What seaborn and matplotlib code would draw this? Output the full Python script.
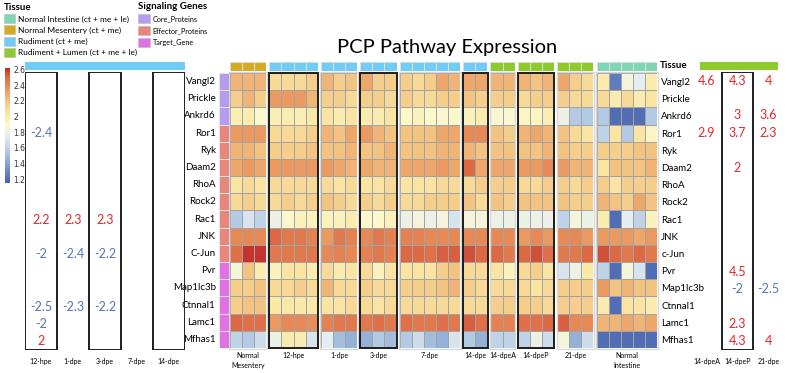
import numpy as np
import pandas as pd
import matplotlib
matplotlib.use('Agg')
import matplotlib.pyplot as plt
import seaborn as sns
from matplotlib.colors import LinearSegmentedColormap, ListedColormap
from matplotlib.patches import Patch, Rectangle

# ---- data ----
genes = ['Vangl2', 'Prickle', 'Ankrd6', 'Ror1', 'Ryk', 'Daam2', 'RhoA', 'Rock2',
         'Rac1', 'JNK', 'C-Jun', 'Pvr', 'Map1lc3b', 'Ctnnal1', 'Lamc1', 'Mfhas1']
genes_right = ['Vangl2', 'Prickle', 'Ankrd6', 'Ror1', 'Ryk', 'Daam2', 'RhoA', 'Rock2',
               'Rac1', 'JNK', 'c-Jun', 'Pvr', 'Map1lc3b', 'Ctnnal1', 'Lamc1', 'Mfhas1']
gene_class = ['Core_Proteins'] * 3 + ['Effector_Proteins'] * 8 + ['Target_Gene'] * 5

groups = ['Normal\nMesentery', '12-hpe', '1-dpe', '3-dpe', '7-dpe', '14-dpe',
          '14-dpeA', '14-dpeP', '21-dpe', 'Normal\nIntestine']
group_tissue = ['Normal Mesentery (ct + me)', 'Rudiment (ct + me)', 'Rudiment (ct + me)',
                'Rudiment (ct + me)', 'Rudiment (ct + me)', 'Rudiment (ct + me)',
                'Rudiment + Lumen (ct + me + le)', 'Rudiment + Lumen (ct + me + le)',
                'Rudiment + Lumen (ct + me + le)', 'Normal Intestine (ct + me + le)']
boxed_groups = ['12-hpe', '3-dpe', '14-dpe', '14-dpeP']

expr_nm = [[2.25, 2.25, 2.25], [2.15, 2.25, 2.15], [1.98, 2.0, 1.9], [2.35, 2.35, 2.35],
           [2.25, 2.25, 2.2], [2.3, 2.35, 2.3], [2.05, 2.1, 2.05], [2.1, 2.15, 2.1],
           [1.55, 1.7, 1.6], [2.4, 2.4, 2.4], [2.48, 2.6, 2.6], [1.85, 2.2, 2.0],
           [2.15, 2.15, 2.2], [2.15, 2.2, 2.2], [2.5, 2.48, 2.48], [1.6, 1.55, 1.65]]
expr_12hpe = [[2.1, 2.1, 2.1, 2.15], [2.35, 2.35, 2.35, 2.25], [1.98, 2.0, 1.98, 2.02],
              [2.1, 2.1, 2.1, 2.15], [2.15, 2.15, 2.15, 2.2], [2.35, 2.35, 2.35, 2.35],
              [2.1, 2.1, 2.1, 2.1], [2.1, 2.15, 2.1, 2.15], [1.8, 1.9, 1.95, 1.95],
              [2.5, 2.45, 2.45, 2.42], [2.45, 2.45, 2.45, 2.45], [1.95, 2.05, 2.05, 2.0],
              [2.1, 2.1, 2.15, 2.1], [2.03, 2.03, 2.03, 2.03], [2.35, 2.4, 2.4, 2.38],
              [1.8, 2.0, 2.0, 1.7]]
expr_1dpe = [[2.25, 2.15, 2.2], [2.15, 2.15, 2.1], [2.05, 2.0, 2.05], [2.25, 2.2, 2.3],
             [2.2, 2.2, 2.25], [2.35, 2.3, 2.25], [2.1, 2.05, 2.1], [2.2, 2.15, 2.1],
             [1.95, 1.95, 2.0], [2.35, 2.45, 2.42], [2.4, 2.42, 2.4], [2.1, 2.0, 2.05],
             [2.25, 2.1, 2.1], [2.05, 2.05, 2.1], [2.42, 2.45, 2.45], [1.75, 1.5, 1.45]]
expr_3dpe = [[2.3, 2.15, 2.15], [2.15, 2.15, 2.1], [2.0, 2.0, 2.05], [2.35, 2.25, 2.2],
             [2.2, 2.2, 2.25], [2.3, 2.25, 2.25], [2.05, 2.05, 2.1], [2.15, 2.1, 2.15],
             [1.9, 1.9, 1.95], [2.4, 2.45, 2.42], [2.42, 2.45, 2.42], [2.1, 1.95, 2.05],
             [2.15, 2.1, 2.1], [2.1, 2.05, 2.1], [2.45, 2.48, 2.45], [1.45, 1.55, 1.5]]
expr_7dpe = [[2.15, 2.1, 2.15, 2.3, 2.25], [2.15, 2.1, 2.1, 2.15, 2.15],
             [1.9, 1.95, 1.9, 1.88, 1.9], [2.2, 2.2, 2.2, 2.3, 2.3],
             [2.2, 2.2, 2.2, 2.25, 2.25], [2.3, 2.3, 2.3, 2.35, 2.3],
             [2.05, 2.05, 2.05, 2.1, 2.1], [2.1, 2.1, 2.15, 2.15, 2.15],
             [1.8, 1.85, 1.8, 1.85, 1.7], [2.42, 2.42, 2.4, 2.4, 2.4],
             [2.5, 2.5, 2.48, 2.52, 2.52], [2.05, 2.05, 2.05, 2.15, 2.2],
             [2.15, 2.15, 2.15, 2.2, 2.25], [2.1, 2.1, 2.1, 2.1, 2.1],
             [2.48, 2.45, 2.45, 2.48, 2.45], [1.55, 1.65, 1.5, 1.45, 1.7]]
expr_14dpe = [[2.3, 2.3], [2.2, 2.15], [1.95, 2.0], [2.4, 2.4], [2.25, 2.2], [2.5, 2.3],
              [2.1, 2.15], [2.2, 2.1], [1.85, 1.85], [2.4, 2.4], [2.55, 2.5], [2.1, 2.1],
              [2.15, 2.1], [2.1, 2.1], [2.52, 2.48], [1.55, 1.45]]
expr_14dpeA = [[2.25, 2.25], [2.15, 2.15], [1.88, 1.88], [2.2, 2.15], [2.2, 2.2], [2.3, 2.3],
               [2.15, 2.15], [2.2, 2.15], [1.8, 1.8], [2.4, 2.4], [2.5, 2.45], [2.05, 1.95],
               [2.1, 2.1], [2.15, 2.15], [2.42, 2.42], [1.6, 1.6]]
expr_14dpeP = [[2.25, 2.2, 2.25], [2.1, 2.15, 2.15], [1.92, 1.92, 1.98], [2.25, 2.3, 2.25],
               [2.2, 2.2, 2.25], [2.35, 2.35, 2.4], [2.1, 2.1, 2.15], [2.2, 2.2, 2.2],
               [1.8, 1.8, 1.8], [2.35, 2.4, 2.35], [2.5, 2.55, 2.48], [2.1, 2.15, 2.05],
               [2.1, 2.05, 2.1], [2.15, 2.15, 2.1], [2.48, 2.48, 2.5], [1.6, 1.8, 1.65]]
expr_21dpe = [[2.3, 2.15, 2.1], [2.15, 2.1, 2.1], [1.8, 1.55, 1.55], [2.2, 2.1, 2.05],
              [2.2, 2.15, 2.15], [2.35, 2.25, 2.25], [2.15, 2.1, 2.15], [2.2, 2.15, 2.15],
              [1.6, 1.85, 1.8], [2.4, 2.4, 2.35], [2.45, 2.45, 2.5], [1.7, 1.8, 2.02],
              [2.15, 2.15, 2.15], [2.15, 2.15, 2.15], [2.52, 2.4, 2.4], [1.85, 1.45, 1.65]]
expr_ni = [[2.0, 1.25, 1.85, 1.75, 2.0], [2.1, 2.0, 2.1, 2.0, 2.05],
           [1.55, 1.2, 1.2, 1.2, 1.55], [1.6, 2.05, 1.55, 2.05, 1.92],
           [2.15, 2.15, 2.15, 2.2, 2.2], [2.05, 2.2, 2.2, 2.2, 2.25],
           [2.15, 2.05, 2.15, 2.15, 2.15], [2.25, 2.2, 2.15, 2.3, 2.2],
           [2.0, 1.2, 1.75, 1.6, 1.95], [2.35, 2.35, 2.35, 2.3, 2.35],
           [2.55, 2.5, 2.45, 2.5, 2.45], [1.6, 1.2, 1.85, 1.7, 1.2],
           [2.35, 2.2, 2.25, 2.2, 2.2], [2.0, 1.2, 2.05, 2.05, 2.0],
           [2.25, 2.25, 2.3, 2.25, 2.3], [1.2, 1.2, 1.2, 1.2, 1.2]]
group_expr = [expr_nm, expr_12hpe, expr_1dpe, expr_3dpe, expr_7dpe, expr_14dpe,
              expr_14dpeA, expr_14dpeP, expr_21dpe, expr_ni]

# fold changes beside the heatmap
left_stages = ['12-hpe', '1-dpe', '3-dpe', '7-dpe', '14-dpe']
left_boxed = ['12-hpe', '3-dpe', '14-dpe']
left_fc = [('Ror1', '12-hpe', -2.4),
           ('Rac1', '12-hpe', 2.2), ('Rac1', '1-dpe', 2.3), ('Rac1', '3-dpe', 2.3),
           ('C-Jun', '12-hpe', -2), ('C-Jun', '1-dpe', -2.4), ('C-Jun', '3-dpe', -2.2),
           ('Ctnnal1', '12-hpe', -2.5), ('Ctnnal1', '1-dpe', -2.3), ('Ctnnal1', '3-dpe', -2.2),
           ('Lamc1', '12-hpe', -2), ('Mfhas1', '12-hpe', 2)]
right_stages = ['14-dpeA', '14-dpeP', '21-dpe']
right_boxed = ['14-dpeP']
right_fc = [('Vangl2', '14-dpeA', 4.6), ('Vangl2', '14-dpeP', 4.3), ('Vangl2', '21-dpe', 4),
            ('Ankrd6', '14-dpeP', 3), ('Ankrd6', '21-dpe', 3.6),
            ('Ror1', '14-dpeA', 2.9), ('Ror1', '14-dpeP', 3.7), ('Ror1', '21-dpe', 2.3),
            ('Daam2', '14-dpeP', 2), ('Pvr', '14-dpeP', 4.5),
            ('Map1lc3b', '14-dpeP', -2), ('Map1lc3b', '21-dpe', -2.5),
            ('Lamc1', '14-dpeP', 2.3), ('Mfhas1', '14-dpeP', 4.3), ('Mfhas1', '21-dpe', 4)]

tissue_colors = {'Normal Intestine (ct + me + le)': '#7fd6b4',
                 'Normal Mesentery (ct + me)': '#d4ab22',
                 'Rudiment (ct + me)': '#6fcdf5',
                 'Rudiment + Lumen (ct + me + le)': '#8dcb2d'}
class_colors = {'Core_Proteins': '#b49cf0',
                'Effector_Proteins': '#e8857c',
                'Target_Gene': '#e072e6'}

# ---- style ----
plt.rcParams['font.family'] = ['Lato', 'DejaVu Sans']
RED = '#e3262b'
BLUE = '#5675b8'

cmap = LinearSegmentedColormap.from_list('pcp', [
    (0.00, '#4562ae'), (0.14, '#7b98ca'), (0.27, '#b2cae4'), (0.41, '#e5eef2'),
    (0.51, '#fbf8cc'), (0.61, '#f9e6a2'), (0.71, '#f3c583'), (0.81, '#eb9c62'),
    (0.92, '#dd6a45'), (1.00, '#c02a2a')])
VMIN, VMAX = 1.15, 2.62

W, H = 787, 373
fig = plt.figure(figsize=(W / 100, H / 100), dpi=100)


def ax_at(x0, y0, x1, y1):
    return fig.add_axes([x0 / W, 1 - y1 / H, (x1 - x0) / W, (y1 - y0) / H])


top, bottom = 73, 348
cw, gap, x = 12.1, 3.08, 230

# colorbar axis
cax = ax_at(5, 68, 9.5, 183)
heat_axes = []

for i, (g, vals) in enumerate(zip(groups, group_expr)):
    df = pd.DataFrame(vals, index=genes)
    ncol = df.shape[1]
    x1 = x + ncol * cw
    ax = ax_at(x, top, x1, bottom)
    sns.heatmap(df, ax=ax, cmap=cmap, vmin=VMIN, vmax=VMAX, linewidths=0.7,
                linecolor='#a3a3a3', xticklabels=False, yticklabels=False,
                cbar=(i == 0), cbar_ax=cax if i == 0 else None)
    heat_axes.append(ax)
    ax.set_xlabel(g, fontsize=5, labelpad=3, linespacing=1.5)
    ax.set_ylabel('')
    if g in boxed_groups:
        ax.add_patch(Rectangle((-0.02, -0.02), ncol + 0.04, len(genes) + 0.04, fill=False,
                               lw=1.4, ec='#1e1e1e', clip_on=False, zorder=5))
    else:
        ax.add_patch(Rectangle((-0.05, -0.05), ncol + 0.1, len(genes) + 0.1, fill=False,
                               lw=1.0, ec='#d8d8d8', clip_on=False, zorder=5))
    if i == len(groups) - 1:
        ax.yaxis.tick_right()
        ax.set_yticks(np.arange(len(genes)) + 0.5)
        ax.set_yticklabels(genes_right, rotation=0, fontsize=7)
        ax.tick_params(axis='y', length=0, pad=3)
    # tissue bar on top of the group
    tax = ax_at(x, 62, x1, 70.5)
    sns.heatmap(np.zeros((1, ncol)), ax=tax, cmap=ListedColormap([tissue_colors[group_tissue[i]]]),
                linewidths=0.6, linecolor='#dcdcdc', cbar=False,
                xticklabels=False, yticklabels=False)
    x = x1 + gap

cb = heat_axes[0].collections[0].colorbar
cb.outline.set_visible(False)
cb.set_ticks([1.2, 1.4, 1.6, 1.8, 2.0, 2.2, 2.4, 2.6])
cb.set_ticklabels(['1.2', '1.4', '1.6', '1.8', '2', '2.2', '2.4', '2.6'])
cax.tick_params(labelsize=5.5, length=0, pad=3)
for t in cax.get_yticklabels():
    t.set_family('DejaVu Sans')
    t.set_color('#333333')

# gene class strip with gene names
sax = ax_at(218.5, top, 228.5, bottom)
class_order = list(class_colors)
codes = pd.DataFrame([[class_order.index(c)] for c in gene_class], index=genes)
sns.heatmap(codes, ax=sax, cmap=ListedColormap([class_colors[c] for c in class_order]),
            vmin=-0.5, vmax=2.5, linewidths=0.6, linecolor='#e6e6e6', cbar=False,
            xticklabels=False, yticklabels=genes)
sax.set_ylabel('')
sax.tick_params(axis='y', length=0, pad=2, labelsize=7)
plt.setp(sax.get_yticklabels(), rotation=0)

fig.text(447 / W, 1 - 47 / H, 'PCP Pathway Expression', ha='center', va='center', fontsize=14.5)


def fold_panel(x0, x1, stages, boxed, fcs):
    ax = ax_at(x0, top - 1, x1, bottom + 2)
    ax.set_xlim(0, len(stages))
    ax.set_ylim(len(genes), 0)
    ax.axis('off')
    for s in boxed:
        j = stages.index(s)
        ax.add_patch(Rectangle((j, 0), 1, len(genes), fill=False, lw=1.4, ec='#1e1e1e'))
    for gname, s, v in fcs:
        ax.text(stages.index(s) + 0.5, genes.index(gname) + 0.5, f'{v:g}', ha='center',
                va='center', fontsize=9, color=RED if v > 0 else BLUE)
    for j, s in enumerate(stages):
        ax.text(j + 0.5, len(genes) + 0.45, s, ha='center', va='top', fontsize=5)
    return ax


def tissue_bar(x0, x1, color):
    bar = ax_at(x0, 61.5, x1, 70)
    bar.set_facecolor(color)
    bar.set_xticks([])
    bar.set_yticks([])
    for sp in bar.spines.values():
        sp.set_visible(False)


fold_panel(25, 185, left_stages, left_boxed, left_fc)
tissue_bar(25, 184.5, tissue_colors['Rudiment (ct + me)'])

fold_panel(691, 784, right_stages, right_boxed, right_fc)
tissue_bar(700, 778, tissue_colors['Rudiment + Lumen (ct + me + le)'])
fig.text(660 / W, 1 - 66 / H, 'Tissue', fontsize=7, fontweight='bold', va='center')

# legends
h1 = [Patch(fc=c, ec='#bbbbbb', lw=0.4) for c in tissue_colors.values()]
fig.legend(h1, list(tissue_colors), loc='upper left', bbox_to_anchor=(2 / W, 1 - 1 / H),
           frameon=False, fontsize=6.0, title='Tissue', alignment='left',
           title_fontproperties={'weight': 'bold', 'size': 7}, handlelength=1.35,
           handleheight=1.25, handletextpad=0.35, labelspacing=0.3, borderpad=0.2,
           borderaxespad=0)
h2 = [Patch(fc=c, ec='#bbbbbb', lw=0.4) for c in class_colors.values()]
fig.legend(h2, list(class_colors), loc='upper left', bbox_to_anchor=(137 / W, 1 - 1 / H),
           frameon=False, fontsize=5.2, title='Signaling Genes', alignment='left',
           title_fontproperties={'weight': 'bold', 'size': 7}, handlelength=1.6,
           handleheight=1.5, handletextpad=0.35, labelspacing=0.4, borderpad=0.2,
           borderaxespad=0)

fig.savefig('out.png', dpi=100)
